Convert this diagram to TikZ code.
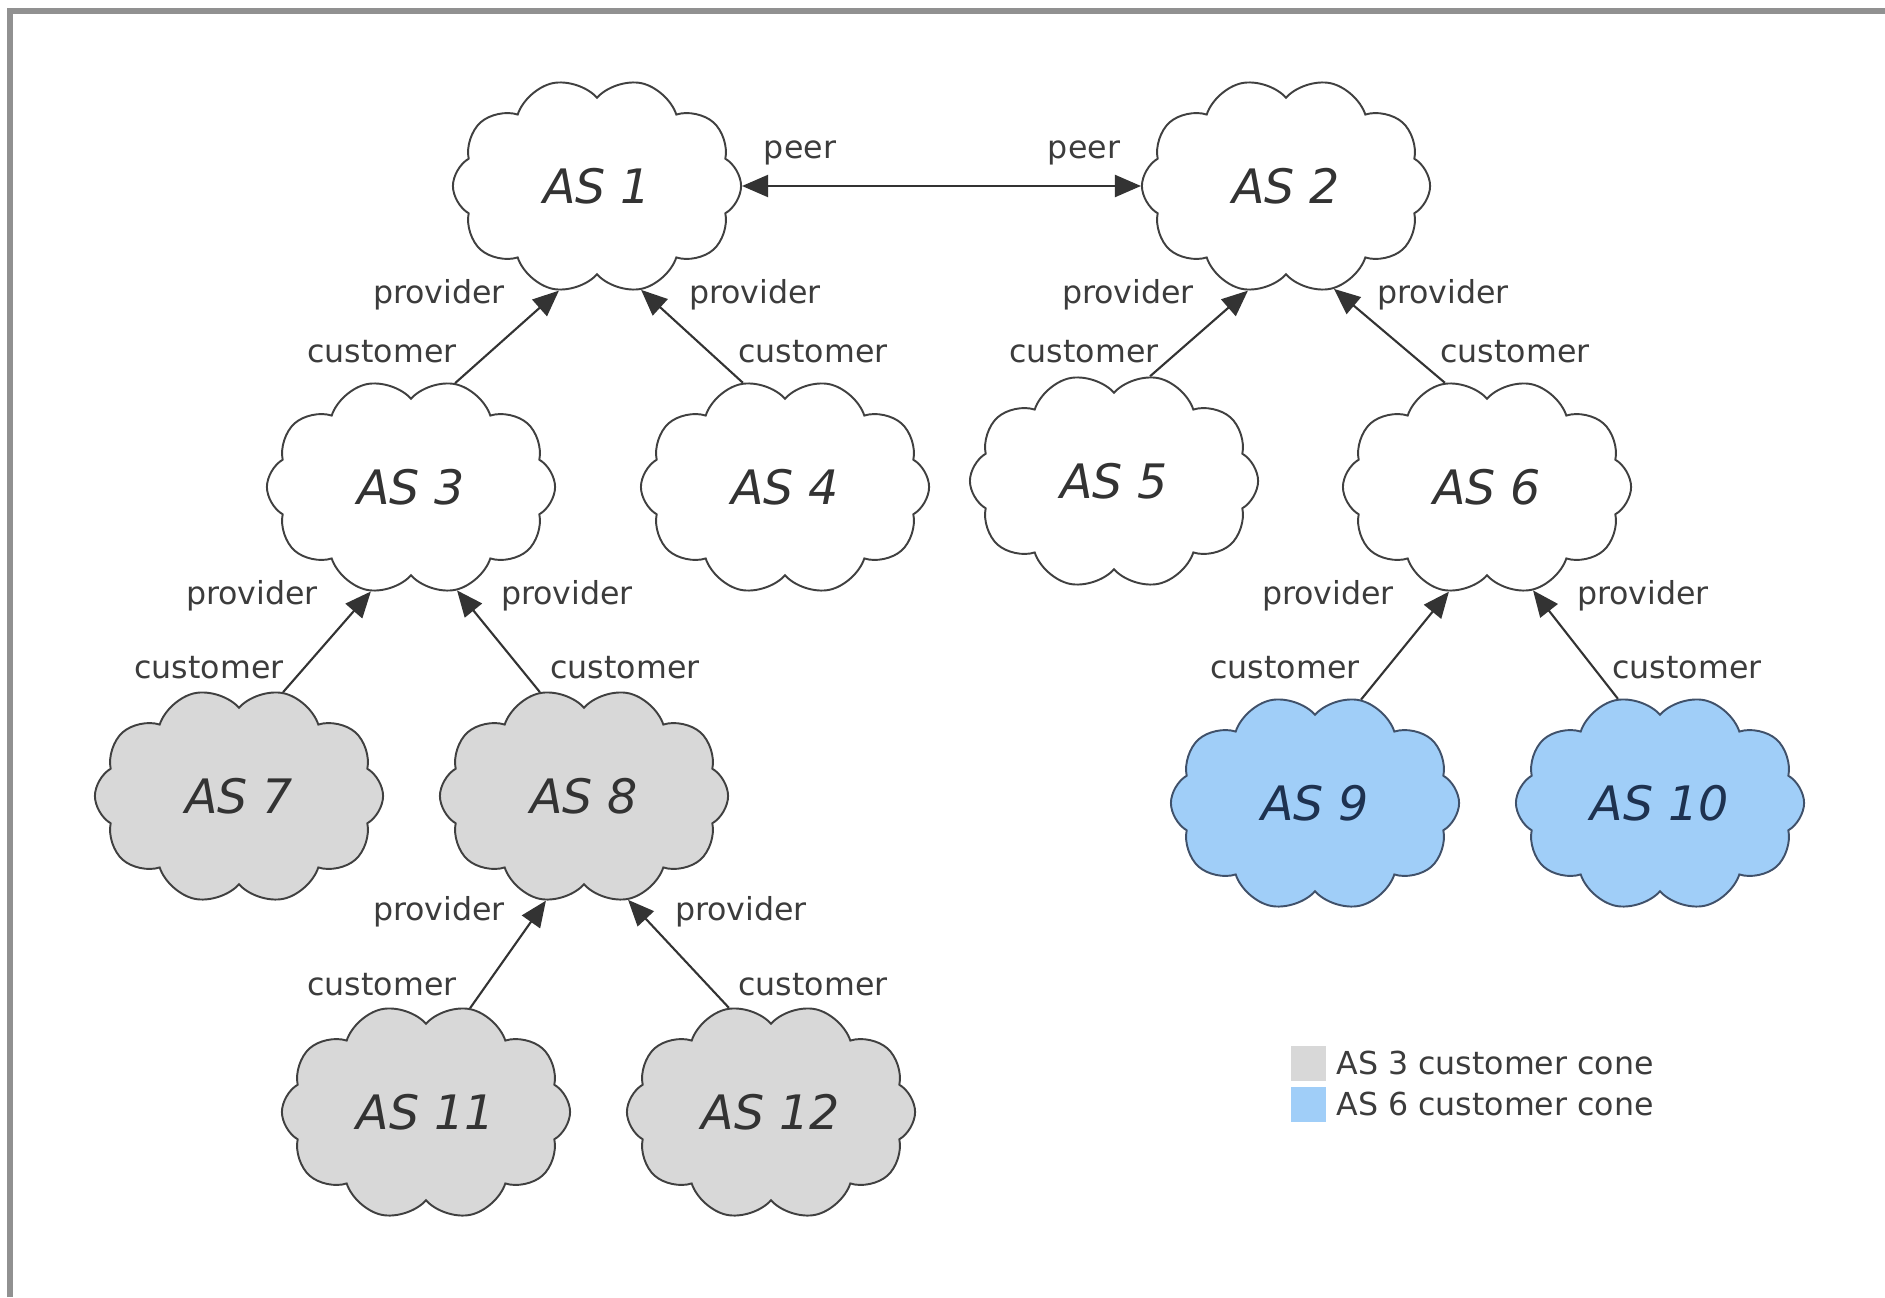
\documentclass[tikz,border=0pt]{standalone}
\usepackage{fontspec}
\setmainfont{DejaVu Sans}
\usetikzlibrary{positioning, arrows.meta, shapes.symbols}

\definecolor{conegray}{RGB}{216,216,216}
\definecolor{coneblue}{RGB}{160,206,248}
\definecolor{framegray}{RGB}{145,145,145}
\definecolor{lbltext}{RGB}{60,60,60}
\definecolor{navy}{RGB}{30,50,80}

\begin{document}
\begin{tikzpicture}[
  x=0.01cm, y=-0.01cm,
  % cloud turned a quarter so that the notches sit at top and bottom;
  % its angle anchors are therefore shifted by -90
  as/.style={cloud, cloud puffs=10, cloud puff arc=120, aspect=0.75, rotate=90,
             draw=black!75, fill=white, line width=0.55pt, minimum width=2.16cm,
             minimum height=2.88cm, inner sep=0pt},
  cone3/.style={as, fill=conegray},
  cone6/.style={as, fill=coneblue, draw=navy!85},
  astext/.style={font=\fontsize{13.5}{16}\selectfont\itshape, text=black!80},
  lbl/.style={font=\fontsize{9}{11}\selectfont, text=lbltext, inner sep=1pt},
  arr/.style={-{Triangle[length=2.6mm, width=2.2mm]}, line width=0.6pt, black!80},
  key/.style={minimum size=0.35cm, inner sep=0pt}
]
\useasboundingbox (0,0) rectangle (1885,1297);
% frame (only top and left edge visible)
\draw[framegray, line width=1.5pt] (10,1297) -- (10,11) -- (1885,11);

% Tier 1
\node[as] (as1) at (597,186) {};
\node[as] (as2) at (1286,186) {};

% Tier 2
\node[as] (as3) at (411,487) {};
\node[as] (as4) at (785,487) {};
\node[as] (as5) at (1114,481) {};
\node[as] (as6) at (1487,487) {};

% Tier 3
\node[cone3] (as7) at (239,796) {};
\node[cone3] (as8) at (584,796) {};
\node[cone6] (as9) at (1315,803) {};
\node[cone6] (as10) at (1660,803) {};

% Tier 4
\node[cone3] (as11) at (426,1112) {};
\node[cone3] (as12) at (771,1112) {};

% Names
\node[astext] (as1txt) at (as1) {AS 1};
\node[astext] (as2txt) at (as2) {AS 2};
\node[astext] (as3txt) at (as3) {AS 3};
\node[astext] (as4txt) at (as4) {AS 4};
\node[astext] (as5txt) at (as5) {AS 5};
\node[astext] (as6txt) at (as6) {AS 6};
\node[astext] (as7txt) at (as7) {AS 7};
\node[astext] (as8txt) at (as8) {AS 8};
\node[astext, text=navy] (as9txt) at (as9) {AS 9};
\node[astext, text=navy] (as10txt) at (as10) {AS 10};
\node[astext] (as11txt) at (as11) {AS 11};
\node[astext] (as12txt) at (as12) {AS 12};

% Arrows
\draw[arr, {Triangle[length=2.6mm, width=2.2mm]}-{Triangle[length=2.6mm, width=2.2mm]}] (as1) -- (as2);
\draw[arr] (as3.-23) -- (as1.160);
\draw[arr] (as4.22) -- (as1.-157);
\draw[arr] (as5.-19) -- (as2.160);
\draw[arr] (as6.22) -- (as2.-155);
\draw[arr] (as7.-23) -- (as3.159);
\draw[arr] (as8.23) -- (as3.-156);
\draw[arr] (as9.-24) -- (as6.160);
\draw[arr] (as10.22) -- (as6.-156);
\draw[arr] (as11.-23) -- (as8.160);
\draw[arr] (as12.22) -- (as8.-157);

% Labels
\node[lbl] (peer1) at (800,153) {peer};
\node[lbl] (peer2) at (1084,153) {peer};
\node[lbl] (prov31) at (439,295) {provider};
\node[lbl] (cust31) at (382,352) {customer};
\node[lbl] (prov41) at (755,295) {provider};
\node[lbl] (cust41) at (813,352) {customer};
\node[lbl] (prov52) at (1128,295) {provider};
\node[lbl] (cust52) at (1084,352) {customer};
\node[lbl] (prov62) at (1443,295) {provider};
\node[lbl] (cust62) at (1515,352) {customer};
\node[lbl] (prov73) at (252,596) {provider};
\node[lbl] (cust73) at (209,668) {customer};
\node[lbl] (prov83) at (567,596) {provider};
\node[lbl] (cust83) at (625,668) {customer};
\node[lbl] (prov96) at (1328,596) {provider};
\node[lbl] (cust96) at (1285,668) {customer};
\node[lbl] (prov106) at (1643,596) {provider};
\node[lbl] (cust106) at (1687,668) {customer};
\node[lbl] (prov118) at (439,912) {provider};
\node[lbl] (cust118) at (382,985) {customer};
\node[lbl] (prov128) at (741,912) {provider};
\node[lbl] (cust128) at (813,985) {customer};

% Legend
\node[key, fill=conegray] (key3) at (1308,1063) {};
\node[key, fill=coneblue, below=0.05cm of key3] (key6) {};
\node[lbl, anchor=west, right=0.06cm of key3] (leg3) {AS 3 customer cone};
\node[lbl, anchor=west, right=0.06cm of key6] (leg6) {AS 6 customer cone};
\end{tikzpicture}
\end{document}
